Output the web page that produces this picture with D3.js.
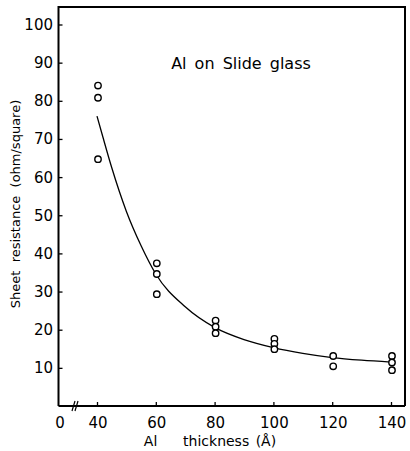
<!DOCTYPE html>
<html><head><meta charset="utf-8">
<script src="https://cdn.jsdelivr.net/npm/d3@7"></script>
<style>body{margin:0;background:#fff}</style>
</head><body>
<script>
// Measured points (Al thickness in Å, sheet resistance in ohm/square)
const thickness = [40,40,40, 60,60,60, 80,80,80, 100,100,100, 120,120, 140,140,140];
const resistance = [84,80.8,64.7, 37.4,34.6,29.3, 22.4,20.8,19.1, 17.6,16.3,14.9, 13.1,10.4, 13.1,11.4,9.4];
// Hand-drawn fit curve
const curveX = [40,42,45,50,55,60,70,80,90,100,110,120,130,140];
const curveY = [76,70.5,62.5,51,42,34.6,26,20.6,17.4,15.3,13.8,12.7,12,11.5];
const xTicks = [40,60,80,100,120,140];
const yTicks = [10,20,30,40,50,60,70,80,90,100];
const title = "Al on Slide glass";
const xLabel = "Al\u00a0\u00a0\u00a0\u00a0thickness (\u00c5)";
const yLabel = "Sheet\u00a0\u00a0resistance\u00a0\u00a0(ohm/square)";

(function(){
const W = 410, H = 451;
const mLeft = 58.5, mRight = 405, mTop = 7, mBottom = 406;
const svg = d3.select("body").append("svg").attr("width", W).attr("height", H);
const x = d3.scaleLinear().domain([40,140]).range([97,391]);
const y = d3.scaleLinear().domain([0,100]).range([mBottom,24.5]);
const font = "'DejaVu Sans', sans-serif";

// frame
svg.append("path")
  .attr("d", `M${mLeft},${mBottom}V${mTop}H${mRight}V${mBottom}`)
  .attr("fill","none").attr("stroke","#000").attr("stroke-width",2);

// y axis
const yAxis = svg.append("g").attr("transform",`translate(${mLeft},0)`)
  .call(d3.axisRight(y).tickValues(yTicks).tickSize(4).tickFormat(""));
yAxis.select(".domain").remove();
yAxis.selectAll("line").attr("stroke-width",1.3);
svg.append("g").selectAll("text").data(yTicks).join("text")
  .attr("x", 53).attr("y", d => y(d)).attr("dy","0.36em")
  .attr("text-anchor","end").attr("font-family",font).attr("font-size",15)
  .text(d => d);

// x axis
const xAxis = svg.append("g").attr("transform",`translate(0,${mBottom})`)
  .call(d3.axisTop(x).tickValues(xTicks).tickSize(4).tickFormat(""));
xAxis.select(".domain").remove();
xAxis.selectAll("line").attr("stroke-width",1.3);
svg.append("path").attr("d",`M${mLeft},${mBottom}H${mRight}`)
  .attr("stroke","#000").attr("stroke-width",2);
svg.append("g").selectAll("text").data(xTicks).join("text")
  .attr("x", d => x(d)+1).attr("y", 428)
  .attr("text-anchor","middle").attr("font-family",font).attr("font-size",15)
  .text(d => d);
svg.append("text").attr("x", 60).attr("y", 428).attr("text-anchor","middle")
  .attr("font-family",font).attr("font-size",15).text("0");
// axis break
svg.append("path").attr("d",`M72,${mBottom+5}L75,${mBottom-5}M75,${mBottom+5}L78,${mBottom-5}`)
  .attr("stroke","#000").attr("stroke-width",1.2);

// curve
const pts = curveX.map((v,i)=>[v,curveY[i]]);
svg.append("path").datum(pts)
  .attr("d", d3.line().x(d=>x(d[0])).y(d=>y(d[1])).curve(d3.curveMonotoneX))
  .attr("fill","none").attr("stroke","#000").attr("stroke-width",1.3);

// points
svg.append("g").selectAll("circle").data(thickness.map((t,i)=>[t,resistance[i]])).join("circle")
  .attr("cx", d => x(d[0])+1).attr("cy", d => y(d[1])).attr("r", 3.2)
  .attr("fill","#fff").attr("stroke","#000").attr("stroke-width",1.4);

// title & labels
svg.append("text").attr("x", 241).attr("y", 69).attr("text-anchor","middle")
  .attr("font-family",font).attr("font-size",16).attr("word-spacing",3).text(title);
svg.append("text").attr("x", 210).attr("y", 446).attr("text-anchor","middle")
  .attr("font-family",font).attr("font-size",14).attr("word-spacing",2).text(xLabel);
svg.append("text").attr("transform","translate(20,204) rotate(-90)").attr("text-anchor","middle")
  .attr("font-family",font).attr("font-size",13).text(yLabel);
})();
</script>
</body></html>
